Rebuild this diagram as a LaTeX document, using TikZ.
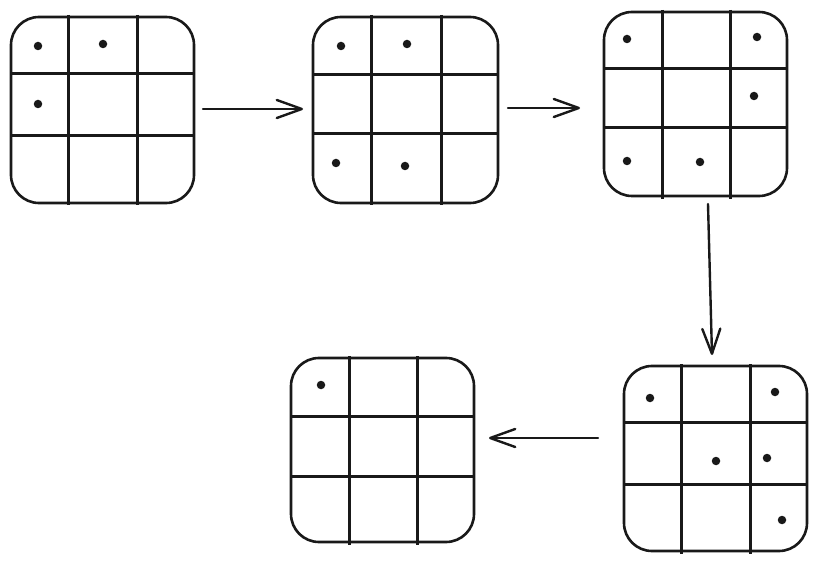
\documentclass[tikz,border=0pt]{standalone}
\usetikzlibrary{arrows.meta}
\tikzset{
  box/.style={draw=black!90, line width=2.6pt, rounded corners=28pt, inner sep=0pt, fill=none},
  gline/.style={draw=black!90, line width=3pt},
  dot/.style={fill=black!90, draw=none, circle, inner sep=0pt, minimum size=8.5pt},
  conn/.style={draw=black!90, line width=2.4pt, line cap=round,
    -{Straight Barb[length=25pt,width=18pt,line cap=round,line join=round]}},
}
\begin{document}
\begin{tikzpicture}[x=1pt,y=-1pt]
\useasboundingbox (0,0) rectangle (817,564);
% grid 1
\node[box, minimum width=183pt, minimum height=186pt] (g1) at (102.5,110) {};
\draw[gline] (68,15) -- (68,205) (137,15) -- (137,205)
  (11,74) -- (194,74) (11,136) -- (194,136);
\node[dot] (d11) at (38,46) {};
\node[dot] (d12) at (103,44) {};
\node[dot] (d13) at (38,104) {};
% grid 2
\node[box, minimum width=185pt, minimum height=186pt] (g2) at (405.5,110) {};
\draw[gline] (371,15) -- (371,205) (441,15) -- (441,205)
  (313,75) -- (498,75) (313,134) -- (498,134);
\node[dot] (d21) at (341,46) {};
\node[dot] (d22) at (407,44) {};
\node[dot] (d23) at (336,163) {};
\node[dot] (d24) at (405,166) {};
% grid 3
\node[box, minimum width=183pt, minimum height=184pt] (g3) at (695.5,104) {};
\draw[gline] (662,10) -- (662,199) (730,10) -- (730,199)
  (604,69) -- (787,69) (604,128) -- (787,128);
\node[dot] (d31) at (627,39) {};
\node[dot] (d32) at (757,37) {};
\node[dot] (d33) at (754,96) {};
\node[dot] (d34) at (627,161) {};
\node[dot] (d35) at (700,162) {};
% grid 4
\node[box, minimum width=183pt, minimum height=185pt] (g4) at (715.5,458.5) {};
\draw[gline] (681,364) -- (681,554) (750,364) -- (750,554)
  (624,422) -- (807,422) (624,484) -- (807,484);
\node[dot] (d41) at (650,398) {};
\node[dot] (d42) at (775,392) {};
\node[dot] (d43) at (716,461) {};
\node[dot] (d44) at (767,458) {};
\node[dot] (d45) at (782,520) {};
% grid 5
\node[box, minimum width=183pt, minimum height=184pt] (g5) at (382.5,450) {};
\draw[gline] (349,356) -- (349,545) (417,356) -- (417,545)
  (291,416) -- (474,416) (291,476) -- (474,476);
\node[dot] (d51) at (321,385) {};
% connectors
\coordinate (a1s) at (203,109); \coordinate (a1e) at (303,109);
\coordinate (a2s) at (508,108); \coordinate (a2e) at (580,108);
\coordinate (a3s) at (708,204); \coordinate (a3e) at (712,355);
\coordinate (a4s) at (598,438); \coordinate (a4e) at (489,438);
\draw[conn] (a1s) -- (a1e);
\draw[conn] (a2s) -- (a2e);
\draw[conn] (a3s) -- (a3e);
\draw[conn] (a4s) -- (a4e);
\end{tikzpicture}
\end{document}
